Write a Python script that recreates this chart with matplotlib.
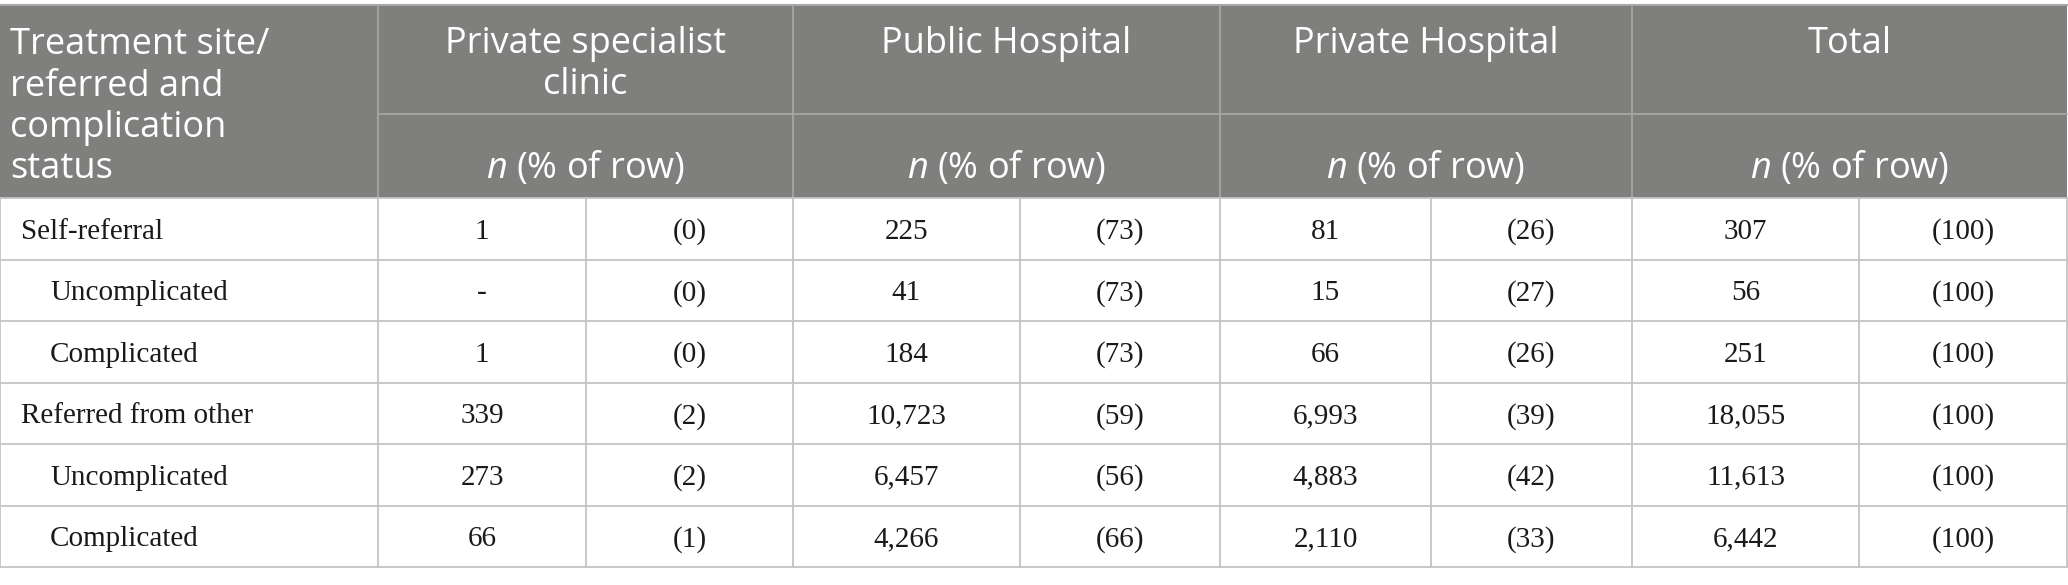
"""Referral / complication status by treatment site, drawn as a table."""

import matplotlib
matplotlib.use("Agg")
import matplotlib.pyplot as plt
from matplotlib.patches import Rectangle

# --- data -----------------------------------------------------------------
first_header = ["Treatment site/", "referred and", "complication", "status"]
sites = [["Private specialist", "clinic"], ["Public Hospital"],
         ["Private Hospital"], ["Total"]]
row_labels = ["Self-referral", "Uncomplicated", "Complicated",
              "Referred from other", "Uncomplicated", "Complicated"]
row_indent = [False, True, True, False, True, True]
n_private_clinic = ["1", "-", "1", "339", "273", "66"]
pct_private_clinic = ["(0)", "(0)", "(0)", "(2)", "(2)", "(1)"]
n_public = ["225", "41", "184", "10,723", "6,457", "4,266"]
pct_public = ["(73)", "(73)", "(73)", "(59)", "(56)", "(66)"]
n_private_hosp = ["81", "15", "66", "6,993", "4,883", "2,110"]
pct_private_hosp = ["(26)", "(27)", "(26)", "(39)", "(42)", "(33)"]
n_total = ["307", "56", "251", "18,055", "11,613", "6,442"]
pct_total = ["(100)"] * 6

columns = [n_private_clinic, pct_private_clinic, n_public, pct_public,
           n_private_hosp, pct_private_hosp, n_total, pct_total]

# --- layout (pixel units) ---------------------------------------------------
W, H = 2068, 585
col_edges = [0, 378, 586, 793, 1020, 1220, 1431, 1632, 1859, 2067]
top, mid, head_bot = 5, 114, 198
row_h = (567 - head_bot) / 6

HEAD_BG = "#7f807e"
HEAD_LINE = "#a8a8a8"
GRID = "#c4c4c4"
SANS = "Open Sans"
SERIF = "Liberation Serif"
HEAD_FS = 26
BODY_FS = 21

# italic "n" in the same sans family as the header
plt.rcParams["mathtext.fontset"] = "custom"
plt.rcParams["mathtext.rm"] = "Open Sans"
plt.rcParams["mathtext.it"] = "Open Sans:italic"

fig = plt.figure(figsize=(W / 100, H / 100), dpi=100)
ax = fig.add_axes([0, 0, 1, 1])
ax.set_xlim(0, W)
ax.set_ylim(H, 0)
ax.axis("off")

# header background
ax.add_patch(Rectangle((0, top), col_edges[-1], head_bot - top,
                       facecolor=HEAD_BG, edgecolor="none"))
# header lines
ax.plot([col_edges[1], col_edges[-1]], [mid, mid], color=HEAD_LINE, lw=1.2)
for i in (1, 3, 5, 7):
    ax.plot([col_edges[i], col_edges[i]], [top, head_bot],
            color=HEAD_LINE, lw=1.2)
ax.plot([0, col_edges[-1]], [top, top], color=HEAD_LINE, lw=1.5)

# first header column, one line at a time
for k, line in enumerate(first_header):
    ax.text(10, 45 + k * 41.5, line, family=SANS, fontsize=HEAD_FS,
            color="white", ha="left", va="center")

# site headers
for j, name in enumerate(sites):
    cx = (col_edges[1 + 2 * j] + col_edges[3 + 2 * j]) / 2
    for k, line in enumerate(name):
        ax.text(cx, 44 + k * 41.5, line, family=SANS, fontsize=HEAD_FS,
                color="white", ha="center", va="center")
    ax.text(cx, 168, r"$\mathit{n}$ (% of row)", family=SANS,
            fontsize=HEAD_FS, color="white", ha="center", va="center")

# body grid
for r in range(7):
    y = head_bot + r * row_h
    ax.plot([0, col_edges[-1]], [y, y], color=GRID, lw=1.3)
for x in col_edges:
    ax.plot([x, x], [head_bot, head_bot + 6 * row_h], color=GRID, lw=1.3)

# body text
for r, label in enumerate(row_labels):
    yc = head_bot + (r + 0.5) * row_h + 3
    ax.text(50 if row_indent[r] else 21, yc, label, family=SERIF,
            fontsize=BODY_FS, color="#1a1a1a", ha="left", va="center")
    for c, vals in enumerate(columns):
        cx = (col_edges[c + 1] + col_edges[c + 2]) / 2
        ax.text(cx, yc, vals[r], family=SERIF, fontsize=BODY_FS,
                color="#1a1a1a", ha="center", va="center")

fig.savefig("out.png", dpi=100, facecolor="white")
